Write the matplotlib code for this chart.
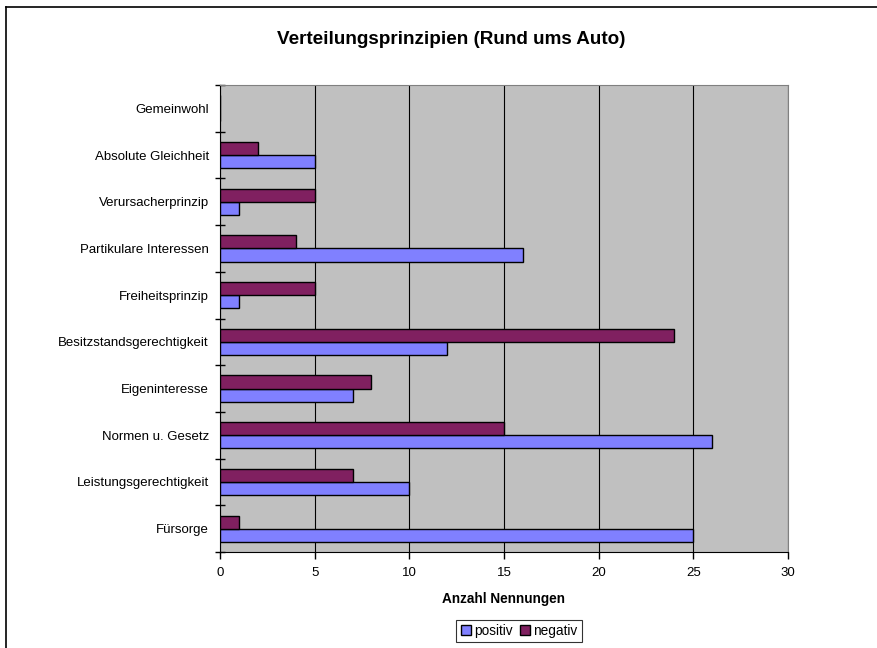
import numpy as np
import matplotlib
matplotlib.use("Agg")
import matplotlib.pyplot as plt
from matplotlib.lines import Line2D
from matplotlib.patches import Patch

## Categories from bottom to top
categories = ["Fürsorge", "Leistungsgerechtigkeit", "Normen u. Gesetz", "Eigeninteresse",
              "Besitzstandsgerechtigkeit", "Freiheitsprinzip", "Partikulare Interessen",
              "Verursacherprinzip", "Absolute Gleichheit", "Gemeinwohl"]
positiv = [25, 10, 26, 7, 12, 1, 16, 1, 5, 0]
negativ = [1, 7, 15, 8, 24, 5, 4, 5, 2, 0]
x_ticks = [0, 5, 10, 15, 20, 25, 30]

plt.rcParams['font.family'] = ['Liberation Sans', 'DejaVu Sans']

fig = plt.figure(figsize=(8.77, 6.48), dpi=100)
ax = fig.add_axes([220 / 877, 1 - 552 / 648, 568 / 877, 467 / 648])

## Outer chart frame (top and left visible)
fig.add_artist(Line2D([6 / 877, 6 / 877], [0, 1 - 7 / 648], transform=fig.transFigure, color="black", lw=1.2))
fig.add_artist(Line2D([6 / 877, 1], [1 - 7 / 648, 1 - 7 / 648], transform=fig.transFigure, color="black", lw=1.2))

y = np.arange(len(categories))
h = 0.28
ax.set_facecolor("#C0C0C0")
ax.barh(y - h / 2, positiv, height=h, color="#8080FF", edgecolor="black", linewidth=1, zorder=3)
ax.barh(y + h / 2, negativ, height=h, color="#802060", edgecolor="black", linewidth=1, zorder=3)

ax.set_xlim(0, 30)
ax.set_ylim(-0.5, len(categories) - 0.5)
ax.set_xticks(x_ticks)
ax.set_xticklabels([str(t) for t in x_ticks], fontsize=9.5)
ax.xaxis.grid(True, color="black", linewidth=0.8, zorder=1)
ax.set_axisbelow(True)

ax.set_yticks(y)
ax.set_yticklabels(categories, fontsize=9.5)
ax.tick_params(axis="y", length=0, pad=8)
ax.set_yticks(np.arange(-0.5, len(categories), 1), minor=True)
ax.tick_params(axis="y", which="minor", length=7, direction="inout", width=1)
ax.tick_params(axis="x", length=5, direction="out", width=1, pad=6)

for s in ["top", "right"]:
    ax.spines[s].set_color("#808080")
for s in ["left", "bottom"]:
    ax.spines[s].set_color("black")

ax.set_xlabel("Anzahl Nennungen", fontsize=9.8, fontweight="bold", labelpad=9)
fig.text(451 / 877, 1 - 40 / 648, "Verteilungsprinzipien (Rund ums Auto)", fontsize=13.6,
         fontweight="bold", ha="center", va="center")

handles = [Patch(facecolor="#8080FF", edgecolor="black"), Patch(facecolor="#802060", edgecolor="black")]
leg = fig.legend(handles, ["positiv", "negativ"], loc="center", bbox_to_anchor=(519 / 877, 1 - 631 / 648),
                 ncol=2, fontsize=9.8, frameon=True, fancybox=False, handlelength=0.8, handleheight=0.8,
                 handletextpad=0.2, columnspacing=0.5, borderpad=0.3, borderaxespad=0)
leg.get_frame().set_edgecolor("black")
leg.get_frame().set_linewidth(0.8)

fig.savefig("out.png", dpi=100)
